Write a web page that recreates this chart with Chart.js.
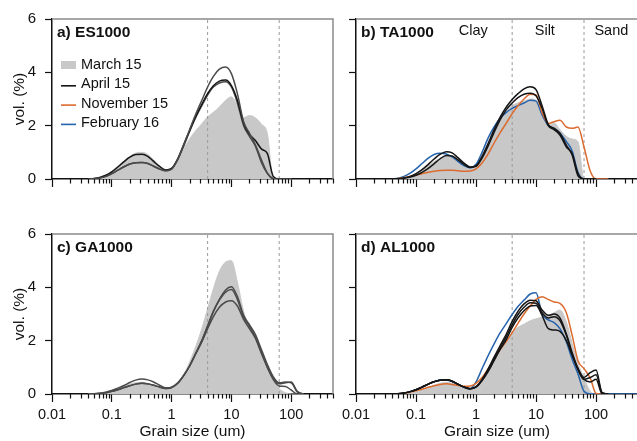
<!DOCTYPE html>
<html>
<head>
<meta charset="utf-8">
<script src="https://cdn.jsdelivr.net/npm/chart.js@4.4.0/dist/chart.umd.min.js"></script>
<style>
    html, body { margin: 0; padding: 0; background: #fff; overflow: hidden; width: 637px; height: 441px; }
    canvas { position: absolute; }
</style>
</head>
<body>
<canvas id="chartA" width="335" height="200" style="left:0;top:0"></canvas>
<canvas id="chartB" width="320" height="200" style="left:320px;top:0"></canvas>
<canvas id="chartC" width="335" height="226" style="left:0;top:215px"></canvas>
<canvas id="chartD" width="320" height="226" style="left:320px;top:215px"></canvas>
<script>
// grain size classes (um)
const sizes = [0.04, 0.05, 0.063, 0.08, 0.1, 0.126, 0.16, 0.2, 0.25, 0.32, 0.4, 0.5, 0.63, 0.8,
    1, 1.26, 1.6, 2, 2.5, 3.2, 4, 5, 6.3, 8, 10, 12.6, 16, 20, 25, 32, 40, 50, 63, 80, 100, 126, 160, 200, 320, 500];

const decadeTicks = [0.01, 0.1, 1, 10, 100];
const decadeLabels = ['0.01', '0.1', '1', '10', '100'];
const yTicks = [0, 2, 4, 6];
const boundaries = [4, 63];
const classLabels = ['Clay', 'Silt', 'Sand'];
const classPos = [0.9, 14, 180];
const legendLabels = ['March 15', 'April 15', 'November 15', 'February 16'];

// a) ES1000
const esMarch = [0, 0.02, 0.07, 0.16, 0.3, 0.48, 0.68, 0.85, 0.97, 1.0, 0.92, 0.72, 0.5, 0.35, 0.42, 0.7, 1.15, 1.5, 1.8, 2.07, 2.33, 2.5, 2.7, 2.95, 3.08, 2.75, 2.3, 2.38, 2.3, 2.05, 1.7, 0, 0, 0, 0, null, null, null, null, null];
const esLine1 = [0, 0.01, 0.04, 0.1, 0.2, 0.33, 0.46, 0.56, 0.61, 0.62, 0.58, 0.48, 0.38, 0.31, 0.37, 0.73, 1.28, 1.85, 2.4, 2.95, 3.45, 3.85, 4.12, 4.2, 3.95, 3.2, 2.15, 1.72, 1.3, 0.7, 0.22, 0.02, 0, 0, 0, null, null, null, null, null];
const esLine2 = [0, 0.02, 0.06, 0.14, 0.27, 0.45, 0.65, 0.82, 0.92, 0.93, 0.85, 0.66, 0.47, 0.34, 0.4, 0.75, 1.3, 1.82, 2.32, 2.8, 3.2, 3.5, 3.67, 3.71, 3.5, 2.95, 2.1, 1.68, 1.45, 1.12, 0.95, 0.1, 0, 0, 0, null, null, null, null, null];
const esLine3 = [0, 0.01, 0.04, 0.1, 0.2, 0.33, 0.46, 0.56, 0.61, 0.62, 0.58, 0.48, 0.37, 0.31, 0.38, 0.72, 1.25, 1.78, 2.28, 2.75, 3.15, 3.45, 3.6, 3.65, 3.45, 2.85, 2.0, 1.6, 1.25, 0.6, 0.2, 0, 0, 0, 0, null, null, null, null, null];

// b) TA1000
const taMarch = [0, 0, 0.03, 0.1, 0.2, 0.35, 0.5, 0.65, 0.78, 0.87, 0.83, 0.66, 0.5, 0.42, 0.5, 0.8, 1.25, 1.7, 2.1, 2.5, 2.75, 2.85, 2.92, 3.0, 2.95, 2.45, 2.0, 2.1, 1.85, 1.6, 1.5, 1.4, 0, 0, 0, null, null, null, null, null];
const taApril1 = [0, 0.01, 0.04, 0.1, 0.2, 0.35, 0.55, 0.75, 0.92, 1.02, 0.98, 0.8, 0.6, 0.45, 0.5, 0.85, 1.35, 1.85, 2.3, 2.7, 2.98, 3.2, 3.38, 3.46, 3.35, 2.75, 2.05, 1.9, 1.72, 1.27, 0.9, 0.12, 0, 0, 0, null, null, null, null, null];
const taApril2 = [0, 0.01, 0.03, 0.07, 0.14, 0.25, 0.4, 0.57, 0.75, 0.88, 0.86, 0.72, 0.55, 0.43, 0.47, 0.78, 1.25, 1.75, 2.2, 2.6, 2.85, 3.05, 3.18, 3.22, 3.12, 2.65, 2.0, 1.85, 1.65, 1.2, 0.95, 0.2, 0, 0, 0, null, null, null, null, null];
const taNov = [0, 0.02, 0.05, 0.1, 0.15, 0.2, 0.25, 0.29, 0.32, 0.33, 0.33, 0.31, 0.29, 0.3, 0.38, 0.6, 0.95, 1.35, 1.72, 2.1, 2.45, 2.75, 3.0, 3.18, 3.15, 2.5, 2.08, 2.15, 2.2, 1.95, 1.9, 1.95, 1.2, 0.3, 0, 0, 0, null, null, null];
const taFeb = [0, 0.03, 0.1, 0.22, 0.38, 0.58, 0.78, 0.92, 0.97, 0.94, 0.83, 0.66, 0.5, 0.42, 0.55, 1.0, 1.55, 1.95, 2.27, 2.5, 2.65, 2.75, 2.85, 2.95, 2.92, 2.4, 2.0, 1.9, 1.72, 1.4, 1.05, 0.25, 0, 0, 0, null, null, null, null, null];

// c) GA1000
const gaMarch = [0.01, 0.02, 0.04, 0.08, 0.14, 0.22, 0.3, 0.37, 0.42, 0.44, 0.4, 0.33, 0.26, 0.22, 0.28, 0.45, 0.75, 1.2, 1.75, 2.45, 3.2, 3.95, 4.6, 4.95, 5.0, 4.2, 3.1, 2.5, 2.05, 1.6, 1.0, 0.55, 0.2, 0.05, 0, 0, null, null, null, null];
const gaLine1 = [0, 0.01, 0.03, 0.07, 0.13, 0.22, 0.32, 0.43, 0.52, 0.56, 0.53, 0.45, 0.33, 0.23, 0.25, 0.4, 0.7, 1.05, 1.5, 2.0, 2.55, 3.1, 3.55, 3.9, 4.02, 3.65, 2.95, 2.6, 2.25, 1.65, 1.1, 0.65, 0.42, 0.45, 0.42, 0.08, 0, null, null, null];
const gaLine2 = [0, 0.01, 0.02, 0.05, 0.1, 0.16, 0.24, 0.31, 0.37, 0.4, 0.38, 0.33, 0.26, 0.21, 0.24, 0.4, 0.7, 1.05, 1.5, 2.0, 2.55, 3.1, 3.52, 3.82, 3.92, 3.55, 2.9, 2.55, 2.15, 1.55, 1.0, 0.58, 0.38, 0.42, 0.45, 0.1, 0, null, null, null];
const gaLine3 = [0, 0.01, 0.02, 0.05, 0.1, 0.16, 0.24, 0.31, 0.37, 0.4, 0.38, 0.33, 0.26, 0.21, 0.24, 0.4, 0.7, 1.05, 1.48, 1.95, 2.45, 2.9, 3.25, 3.45, 3.5, 3.3, 2.8, 2.45, 2.1, 1.5, 1.0, 0.55, 0.3, 0.28, 0.15, 0, 0, null, null, null];

// d) AL1000
const alMarch = [0, 0, 0.01, 0.04, 0.08, 0.15, 0.24, 0.33, 0.4, 0.43, 0.4, 0.32, 0.24, 0.19, 0.25, 0.42, 0.8, 1.15, 1.55, 1.95, 2.3, 2.5, 2.62, 2.75, 2.82, 2.88, 2.95, 3.05, 3.15, 2.7, 1.9, 1.15, 0.6, 0.1, 0, 0, null, null, null, null];
const alApril1 = [0, 0.01, 0.04, 0.09, 0.16, 0.26, 0.37, 0.46, 0.52, 0.53, 0.48, 0.37, 0.26, 0.2, 0.28, 0.55, 0.95, 1.38, 1.8, 2.25, 2.72, 3.1, 3.38, 3.52, 3.5, 3.15, 2.95, 3.0, 2.85, 2.25, 1.55, 0.95, 0.62, 0.8, 0.9, 0.05, 0, null, null, null];
const alApril2 = [0, 0.01, 0.04, 0.09, 0.16, 0.26, 0.37, 0.46, 0.52, 0.53, 0.48, 0.37, 0.26, 0.2, 0.27, 0.52, 0.9, 1.32, 1.72, 2.15, 2.6, 2.98, 3.25, 3.42, 3.4, 3.05, 2.85, 2.9, 2.75, 2.2, 1.5, 0.9, 0.55, 0.62, 0.72, 0.05, 0, null, null, null];
const alApril3 = [0, 0.01, 0.04, 0.09, 0.16, 0.26, 0.37, 0.46, 0.52, 0.53, 0.48, 0.37, 0.26, 0.2, 0.26, 0.5, 0.85, 1.25, 1.65, 2.05, 2.5, 2.85, 3.12, 3.3, 3.32, 2.95, 2.45, 2.4, 2.35, 2.0, 1.45, 0.95, 0.55, 0.45, 0.55, 0, 0, null, null, null];
const alNov = [0, 0.01, 0.03, 0.07, 0.12, 0.18, 0.25, 0.31, 0.36, 0.38, 0.36, 0.32, 0.29, 0.3, 0.4, 0.62, 0.95, 1.3, 1.65, 1.98, 2.3, 2.65, 3.0, 3.3, 3.55, 3.65, 3.55, 3.45, 3.4, 3.05, 2.2, 1.25, 0.95, 0.6, 0.02, 0, 0, null, null, null];
const alFeb = [0, 0.01, 0.04, 0.09, 0.16, 0.26, 0.37, 0.46, 0.52, 0.52, 0.47, 0.36, 0.26, 0.2, 0.45, 0.95, 1.45, 1.88, 2.28, 2.65, 2.98, 3.28, 3.52, 3.75, 3.8, 3.0, 2.78, 2.68, 2.45, 1.95, 1.3, 0.75, 0.1, 0, 0, 0, 0, 0, 0, 0];

const FONT = "'Liberation Sans', Arial, sans-serif";
const TEXT = '#111';
const GRAY_FILL = '#c8c8c8';
const DARK = '#4a4a4a';
const BLACK = '#151515';
const ORANGE = '#dc6b2f';
const BLUE = '#2563ad';
const legendColors = [GRAY_FILL, BLACK, ORANGE, BLUE];

Chart.defaults.font.family = FONT;
Chart.defaults.color = TEXT;

function toPoints(values) {
    return values.map((v, i) => ({ x: sizes[i], y: v }));
}

function fillSet(label, values) {
    return {
        label: label, data: toPoints(values),
        borderColor: GRAY_FILL, backgroundColor: GRAY_FILL, borderWidth: 1,
        fill: 'origin', pointRadius: 0, cubicInterpolationMode: 'monotone', order: 10
    };
}

function lineSet(label, values, color) {
    return {
        label: label, data: toPoints(values),
        borderColor: color, borderWidth: 1.5, fill: false,
        pointRadius: 0, cubicInterpolationMode: 'monotone', order: 1
    };
}

function boundarySets() {
    return boundaries.map(b => ({
        label: 'limit ' + b, data: [{ x: b, y: 0 }, { x: b, y: 6 }],
        borderColor: '#9a9a9a', borderWidth: 1, borderDash: [3, 3],
        pointRadius: 0, fill: false, order: 5
    }));
}

// top / right frame, minor log ticks, panel texts and legend
const panelPlugin = {
    id: 'panel',
    afterDraw(chart, args, opts) {
        const ctx = chart.ctx;
        const a = chart.chartArea;
        const xs = chart.scales.x;
        ctx.save();

        ctx.strokeStyle = '#8a8a8a';
        ctx.lineWidth = 1.5;
        ctx.beginPath();
        ctx.moveTo(a.left, a.top);
        ctx.lineTo(a.right, a.top);
        ctx.lineTo(a.right, a.bottom);
        ctx.stroke();

        ctx.strokeStyle = TEXT;
        ctx.lineWidth = 1.2;
        ctx.beginPath();
        decadeTicks.forEach(d => {
            for (let m = 2; m <= 9; m++) {
                const v = d * m;
                if (v > xs.max) break;
                const px = Math.round(xs.getPixelForValue(v)) + 0.5;
                ctx.moveTo(px, a.bottom);
                ctx.lineTo(px, a.bottom + 4.5);
            }
        });
        ctx.stroke();

        ctx.fillStyle = TEXT;
        ctx.textBaseline = 'middle';
        ctx.textAlign = 'left';
        ctx.font = 'bold 15.5px ' + FONT;
        ctx.fillText(opts.title, a.left + 5, a.top + 14);

        if (opts.classes) {
            ctx.font = '14.5px ' + FONT;
            ctx.textAlign = 'center';
            classLabels.forEach((t, i) => ctx.fillText(t, xs.getPixelForValue(classPos[i]), a.top + 12));
        }

        if (opts.legend) {
            ctx.font = '14.5px ' + FONT;
            ctx.textAlign = 'left';
            legendLabels.forEach((t, i) => {
                const y = a.top + 46 + i * 19.3;
                if (i === 0) {
                    ctx.fillStyle = legendColors[i];
                    ctx.fillRect(a.left + 9, y - 4, 15, 8);
                } else {
                    ctx.strokeStyle = legendColors[i];
                    ctx.lineWidth = 1.6;
                    ctx.beginPath();
                    ctx.moveTo(a.left + 9, y + 1.5);
                    ctx.lineTo(a.left + 24, y + 1.5);
                    ctx.stroke();
                }
                ctx.fillStyle = TEXT;
                ctx.fillText(t, a.left + 29, y);
            });
        }
        ctx.restore();
    }
};

function makePanel(id, datasets, opt) {
    const ctx = document.getElementById(id).getContext('2d');
    return new Chart(ctx, {
        type: 'line',
        data: { datasets: datasets.concat(boundarySets()) },
        options: {
            responsive: false,
            animation: false,
            layout: { padding: { top: 19, right: 2, left: 0, bottom: 0 } },
            plugins: {
                legend: { display: false },
                tooltip: { enabled: false },
                panel: { title: opt.title, classes: opt.classes, legend: opt.legend }
            },
            scales: {
                x: {
                    type: 'logarithmic', min: 0.01, max: 500, position: 'bottom',
                    afterBuildTicks: s => { s.ticks = decadeTicks.map(v => ({ value: v })); },
                    afterFit: s => { s.height = opt.xLabels ? 47 : 21; },
                    border: { color: TEXT, width: 1.5 },
                    grid: { drawOnChartArea: false, tickLength: 8, tickColor: TEXT, tickWidth: 1.2 },
                    ticks: {
                        display: opt.xLabels, autoSkip: false, maxRotation: 0, padding: 4,
                        font: { size: 14.5 }, color: TEXT,
                        callback: (value, index) => decadeLabels[index]
                    },
                    title: { display: opt.xLabels, text: 'Grain size (um)', font: { size: 15.5 }, color: TEXT, padding: { top: 0, bottom: 0 } }
                },
                y: {
                    min: 0, max: 6,
                    afterBuildTicks: s => { s.ticks = yTicks.map(v => ({ value: v })); },
                    afterFit: s => { s.width = opt.yWidth; },
                    border: { color: TEXT, width: 1.5 },
                    grid: { drawOnChartArea: false, tickLength: 7, tickColor: TEXT, tickWidth: 1.2 },
                    ticks: { display: opt.yLabels, padding: 9, font: { size: 15 }, color: TEXT },
                    title: { display: opt.yLabels, text: 'vol. (%)', font: { size: 15.5 }, color: TEXT, padding: { top: 10, bottom: 0 } }
                }
            }
        },
        plugins: [panelPlugin]
    });
}

makePanel('chartA', [
    fillSet('March 15', esMarch),
    lineSet('April 15', esLine1, DARK),
    lineSet('April 15', esLine2, BLACK),
    lineSet('April 15', esLine3, DARK)
], { title: 'a) ES1000', legend: true, xLabels: false, yLabels: true, yWidth: 52 });

makePanel('chartB', [
    fillSet('March 15', taMarch),
    lineSet('April 15', taApril1, BLACK),
    lineSet('April 15', taApril2, BLACK),
    lineSet('November 15', taNov, ORANGE),
    lineSet('February 16', taFeb, BLUE)
], { title: 'b) TA1000', classes: true, xLabels: false, yLabels: false, yWidth: 36 });

makePanel('chartC', [
    fillSet('March 15', gaMarch),
    lineSet('April 15', gaLine1, DARK),
    lineSet('April 15', gaLine2, DARK),
    lineSet('April 15', gaLine3, DARK)
], { title: 'c) GA1000', xLabels: true, yLabels: true, yWidth: 52 });

makePanel('chartD', [
    fillSet('March 15', alMarch),
    lineSet('April 15', alApril1, BLACK),
    lineSet('April 15', alApril2, BLACK),
    lineSet('April 15', alApril3, BLACK),
    lineSet('November 15', alNov, ORANGE),
    lineSet('February 16', alFeb, BLUE)
], { title: 'd) AL1000', xLabels: true, yLabels: false, yWidth: 36 });
</script>
</body>
</html>
